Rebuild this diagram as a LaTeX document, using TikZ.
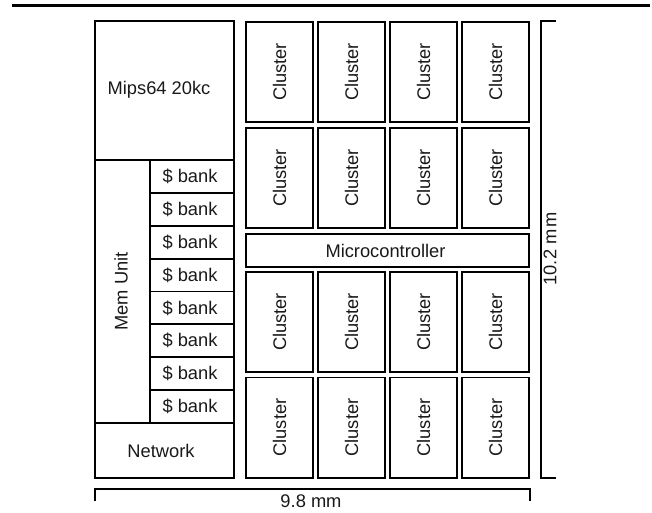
\documentclass[tikz,border=0pt]{standalone}
\usepackage{fontspec}
\setmainfont{Liberation Sans}
\begin{document}
\begin{tikzpicture}[x=1pt,y=-1pt,
  every node/.style={font=\fontsize{18.3}{20}\selectfont, text=black!90, inner sep=0pt},
  blk/.style={draw, line width=1.9pt},
  cl/.style={blk, rotate=90, minimum width=100.1pt, minimum height=67.1pt},
  bank/.style={blk, minimum width=84pt, minimum height=32.875pt},
  dimline/.style={line width=1.8pt}]
\useasboundingbox (0,0) rectangle (652,512);
% top rule
\coordinate (t1) at (12,5.5);
\coordinate (t2) at (650,5.5);
\draw[line width=2.2pt] (t1) -- (t2);
% left block
\node[blk, minimum width=139pt, minimum height=139pt] (mips) at (164.5,90.5) {};
\node (mipst) at (159,90) {Mips64 20kc};
\node[blk, minimum width=55pt, minimum height=263pt] (mem) at (122.5,291.5) {};
\node[rotate=90] (memt) at (121,291.5) {Mem Unit};
\foreach \i in {0,...,7}{
  \node[bank] (b\i) at (192,{176.44+32.875*\i}) {};
  \node at (190,{176.44+32.875*\i}) {\$ bank};
}
\node[blk, minimum width=139pt, minimum height=55pt] (net) at (164.5,450.5) {};
\node (nett) at (161,450.5) {Network};
% clusters
\foreach \r/\y in {1/72,2/178,3/322,4/427.5}{
  \foreach \c/\x in {1/279.5,2/351.5,3/423.5,4/495.5}{
    \node[cl] (c\r\c) at (\x,\y) {Cluster};
  }
}
\node[blk, minimum width=283.1pt, minimum height=33.1pt] (micro) at (387.5,250.5) {};
\node (microt) at (385.5,251) {Microcontroller};
% dimensions
\coordinate (h1) at (95,501);
\coordinate (h2) at (95,489);
\coordinate (h3) at (530,489);
\coordinate (h4) at (530,501);
\draw[dimline] (h1) -- (h2) -- (h3) -- (h4);
\node (wl) at (311,501.5) {9.8 mm};
\coordinate (v1) at (556,21);
\coordinate (v2) at (541,21);
\coordinate (v3) at (541,478);
\coordinate (v4) at (556,478);
\draw[dimline] (v1) -- (v2) -- (v3) -- (v4);
\node[rotate=90] (hl) at (550,249) {10.2 m\kern1.5pt m};
\end{tikzpicture}
\end{document}
